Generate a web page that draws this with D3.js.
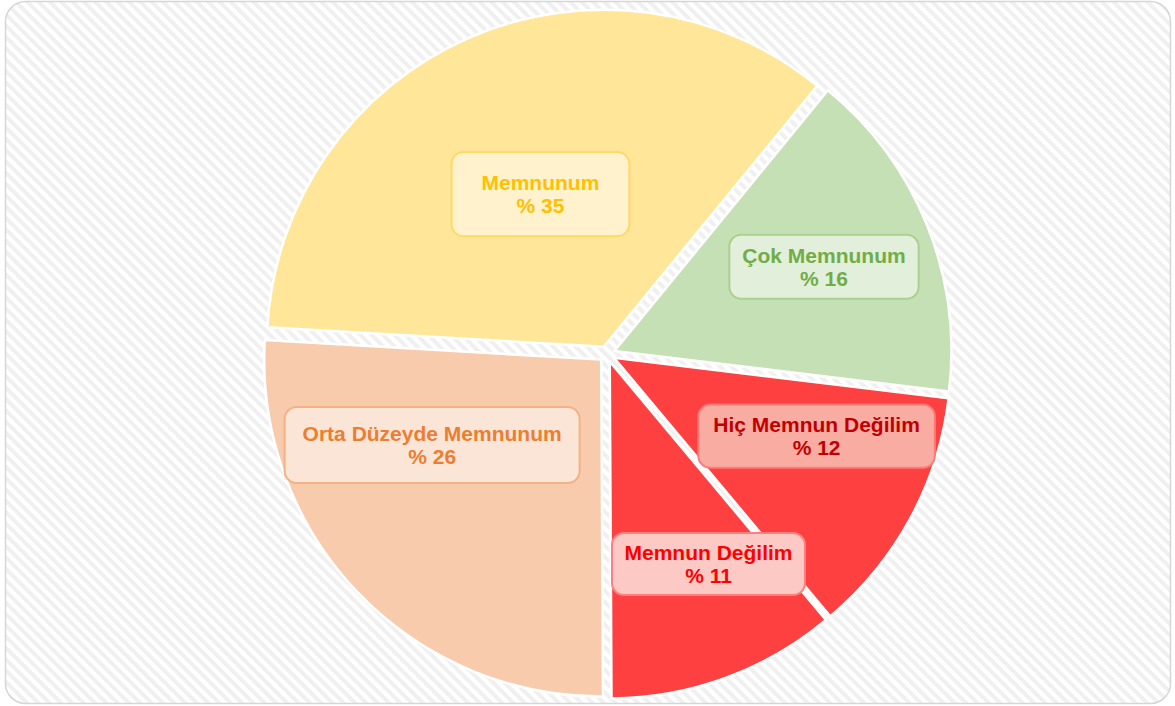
<!DOCTYPE html>
<html>
<head>
<meta charset="utf-8">
<script src="https://cdn.jsdelivr.net/npm/d3@7/dist/d3.min.js"></script>
<style>
    html, body { margin: 0; padding: 0; background: #ffffff; }
    svg { display: block; }
</style>
</head>
<body>
<svg id="pie-chart" width="1175" height="706"></svg>
<script>
"use strict";

const svgWidth = 1175;
const svgHeight = 706;
const centerX = 607;
const centerY = 354;
const radius = 337;
const explode = 8;
const startDeg = 96.9;

// data, in drawing order (clockwise)
const categories = ["Hiç Memnun Değilim", "Memnun Değilim", "Orta Düzeyde Memnunum", "Memnunum", "Çok Memnunum"];
const values = [12, 11, 26, 35, 16];
const valueLabels = ["% 12", "% 11", "% 26", "% 35", "% 16"];

// styles
const sliceColors = ["#ff4040", "#ff4040", "#f8cbad", "#ffe699", "#c5e0b4"];
const textColors = ["#c00000", "#ff0000", "#ed7d31", "#ffc000", "#70ad47"];
const boxFills = ["#f8aca2", "#fcc9c4", "#fbe5d6", "#fff2cc", "#e2efda"];
const boxStrokes = ["#ff7a7a", "#ff7f7f", "#f4b183", "#ffd966", "#a9d18e"];

// label placement: [angle nudge from bisector (deg), radius fraction, padX, padY]
const labelLayout = [
    [-7.1, 0.668, 15, 12.3],
    [-5.7, 0.692, 12.5, 11.8],
    [16.0, 0.585, 18, 18.8],
    [1.1, 0.514, 30, 22.8],
    [0.0, 0.694, 13, 12.8]
];

const fontSize = 21;
const capHeight = 15;
const lineGap = 23.5;

window.addEventListener("load", init);

function drawBackground(svg) {
    const defs = svg.append("defs");
    const pattern = defs.append("pattern")
        .attr("id", "stripes")
        .attr("patternUnits", "userSpaceOnUse")
        .attr("width", 8)
        .attr("height", 8)
        .attr("patternTransform", "rotate(-45)");
    pattern.append("rect")
        .attr("width", 8).attr("height", 8)
        .attr("fill", "#ffffff");
    pattern.append("rect")
        .attr("width", 4).attr("height", 8)
        .attr("fill", "#f0f0f0");

    svg.append("rect")
        .attr("x", 5.5).attr("y", 1.5)
        .attr("width", 1165).attr("height", 702)
        .attr("rx", 20).attr("ry", 20)
        .attr("fill", "url(#stripes)")
        .attr("stroke", "#d6d6d6")
        .attr("stroke-width", 1.5);
}

function init() {
    const svg = d3.select("svg#pie-chart");
    drawBackground(svg);

    const data = categories.map((c, i) => ({
        name: c, value: values[i], label: valueLabels[i], idx: i
    }));

    const start = startDeg * Math.PI / 180;
    const pie = d3.pie()
        .value(d => d.value)
        .sort(null)
        .startAngle(start)
        .endAngle(start + 2 * Math.PI);
    const arcs = pie(data);

    const arc = d3.arc().innerRadius(0).outerRadius(radius);

    const g = svg.append("g")
        .attr("transform", `translate(${centerX},${centerY})`);

    g.selectAll("path.slice")
        .data(arcs)
        .join("path")
        .attr("class", "slice")
        .attr("d", arc)
        .attr("transform", a => {
            let mid = (a.startAngle + a.endAngle) / 2;
            return `translate(${Math.sin(mid) * explode},${-Math.cos(mid) * explode})`;
        })
        .attr("fill", a => sliceColors[a.data.idx])
        .attr("stroke", "#ffffff")
        .attr("stroke-width", 2.5)
        .attr("stroke-linejoin", "round");

    // labels
    const labels = g.selectAll("g.label")
        .data(arcs)
        .join("g")
        .attr("class", "label")
        .attr("transform", a => {
            let lay = labelLayout[a.data.idx];
            let mid = (a.startAngle + a.endAngle) / 2 + lay[0] * Math.PI / 180;
            let r = lay[1] * radius;
            return `translate(${Math.sin(mid) * r},${-Math.cos(mid) * r})`;
        });

    const blockH = lineGap + capHeight;

    labels.each(function(a) {
        const lab = d3.select(this);
        const i = a.data.idx;
        const box = lab.append("rect");
        const t1 = lab.append("text")
            .attr("y", -blockH / 2 + capHeight)
            .text(a.data.name);
        const t2 = lab.append("text")
            .attr("y", -blockH / 2 + capHeight + lineGap)
            .text(a.data.label);
        lab.selectAll("text")
            .attr("text-anchor", "middle")
            .attr("font-family", "'Liberation Sans', Arial, sans-serif")
            .attr("font-weight", "bold")
            .attr("font-size", fontSize)
            .attr("fill", textColors[i]);

        let tw = Math.max(t1.node().getComputedTextLength(), t2.node().getComputedTextLength());
        let w = tw + 2 * labelLayout[i][2];
        let h = blockH + 2 * labelLayout[i][3];
        box.attr("x", -w / 2).attr("y", -h / 2)
            .attr("width", w).attr("height", h)
            .attr("rx", 12).attr("ry", 12)
            .attr("fill", boxFills[i])
            .attr("stroke", boxStrokes[i])
            .attr("stroke-width", 2);
    });
}
</script>
</body>
</html>
